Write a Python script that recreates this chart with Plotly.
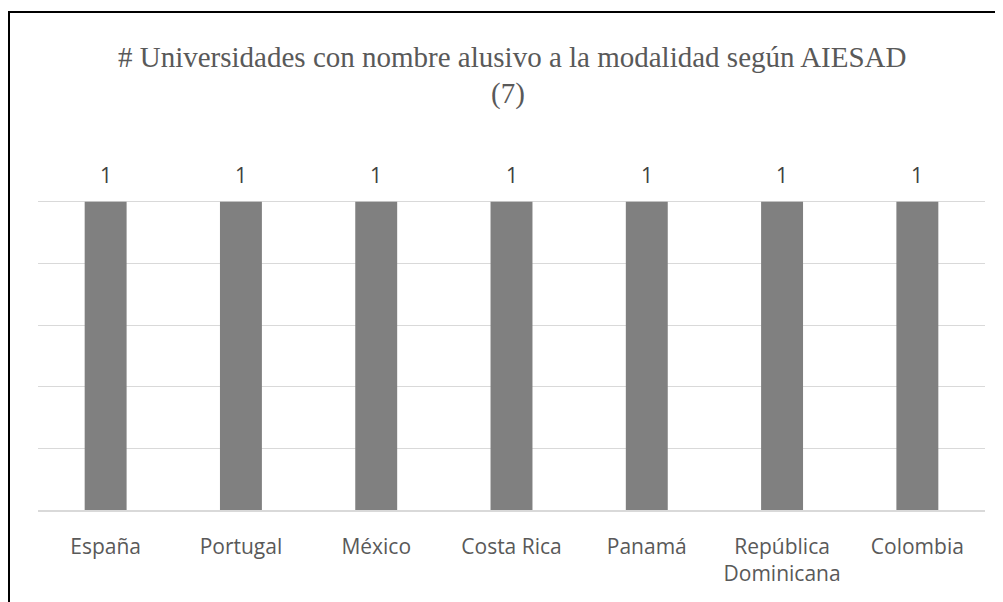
import plotly.graph_objects as go

categories = ["España", "Portugal", "México", "Costa Rica", "Panamá", "República<br>Dominicana", "Colombia"]
values = [1, 1, 1, 1, 1, 1, 1]
title_line1 = "# Universidades con nombre alusivo a la modalidad según AIESAD"
title_line2 = "(7)"

W, H = 1003, 602
OFF = 8  # page body margin offset
L, R, T, B = 30, 26, 132, 100
pw, ph = W - L - R, H - T - B

def px_x(x):  # page x -> paper
    return (x - OFF - L) / pw

def px_y(y):  # page y -> paper
    return (H - B - (y - OFF)) / ph

sans = "Open Sans, Noto Sans, sans-serif"
serif = "Liberation Serif, Times New Roman, serif"

fig = go.Figure(go.Bar(
    x=categories, y=values,
    marker=dict(color="#808080", line=dict(width=0)),
    width=0.31,
    cliponaxis=False,
    hoverinfo="x+y",
))

annotations = [
    dict(text=title_line1, xref="paper", yref="paper", x=px_x(512), y=px_y(57),
         showarrow=False, xanchor="center", yanchor="middle",
         font=dict(family=serif, size=29, color="#595959")),
    dict(text=title_line2, xref="paper", yref="paper", x=px_x(508), y=px_y(94),
         showarrow=False, xanchor="center", yanchor="middle",
         font=dict(family=serif, size=29, color="#595959")),
]
for c, v in zip(categories, values):
    annotations.append(dict(text=str(v), x=c, y=v, xref="x", yref="y",
                            showarrow=False, yanchor="bottom", yshift=11,
                            font=dict(family=sans, size=21, color="#404040")))

fig.update_layout(
    width=W, height=H,
    margin=dict(l=L, r=R, t=T, b=B),
    paper_bgcolor="white", plot_bgcolor="white",
    showlegend=False,
    xaxis=dict(showgrid=False, showline=True, linecolor="#d9d9d9", linewidth=1.5,
               ticks="", ticklabelstandoff=17,
               tickfont=dict(family=sans, size=21, color="#595959"),
               fixedrange=True),
    yaxis=dict(range=[0, 1.2], dtick=0.2, showgrid=True, gridcolor="#d9d9d9", gridwidth=1.2,
               showticklabels=False, zeroline=False, fixedrange=True),
    annotations=annotations,
    shapes=[
        dict(type="rect", xref="paper", yref="paper",
             x0=px_x(9), x1=px_x(1030), y0=px_y(630), y1=px_y(12),
             line=dict(color="black", width=2), fillcolor="rgba(0,0,0,0)", layer="above"),
    ],
)

fig.write_html("out.html")
